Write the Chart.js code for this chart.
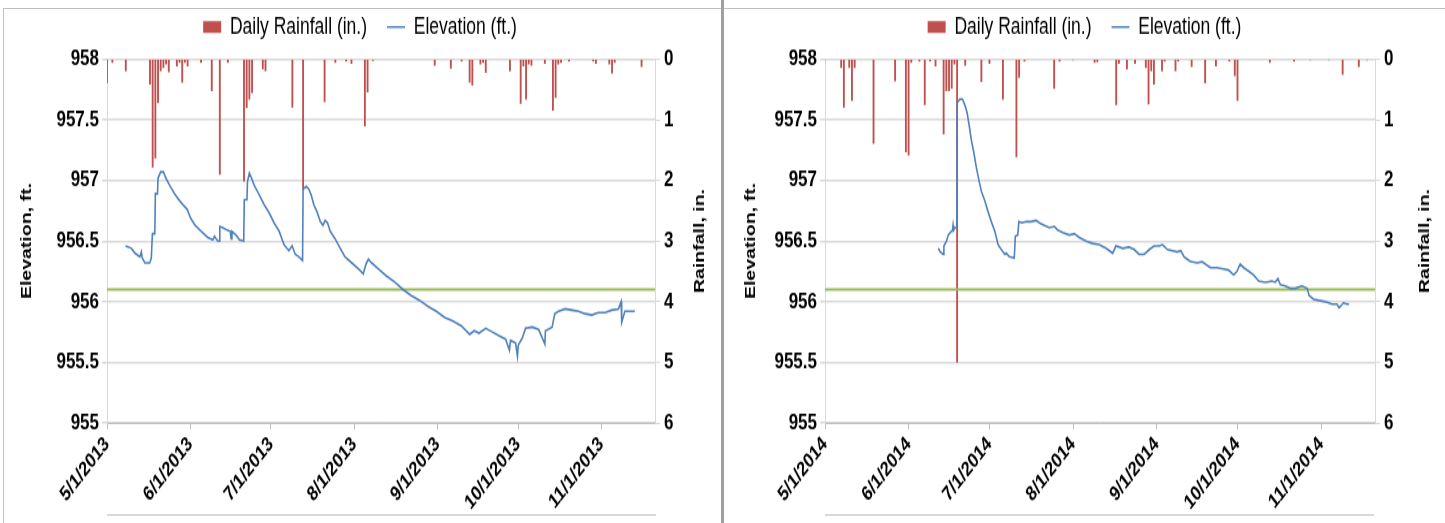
<!DOCTYPE html>
<html>
<head>
<meta charset="utf-8">
<script src="https://cdn.jsdelivr.net/npm/chart.js@4.4.1/dist/chart.umd.min.js"></script>
<style>
  html, body { margin: 0; padding: 0; background: #fff; }
  #wrap { position: relative; width: 1445px; height: 523px; overflow: hidden; }
  .frame { position: absolute; border-top: 1px solid #bfbfbf; border-left: 1px solid #bfbfbf; }
  .divider { position: absolute; left: 721px; top: 0; width: 3px; height: 523px; background: #a0a0a0; }
  .rule { position: absolute; top: 514px; width: 549px; height: 2px; background: #d9d9d9; }
  /* the source picture is stretched vertically, so the charts are drawn short and scaled up */
  canvas { position: absolute; top: 0; transform: scaleY(1.301); transform-origin: 0 0; }
</style>
</head>
<body>
<div id="wrap">
  <div class="frame" style="left:3px;top:8px;width:718px;height:515px;"></div>
  <div class="frame" style="left:724px;top:8px;width:721px;height:515px;border-left:none;"></div>
  <div class="divider"></div>
  <div class="rule" style="left:107px;"></div>
  <div class="rule" style="left:825px;"></div>
  <canvas id="chart2013" width="720" height="402" style="left:0;"></canvas>
  <canvas id="chart2014" width="721" height="402" style="left:724px;"></canvas>
</div>
<script>
// x values are days after May 1 of each year
const monthTicks = [0, 31, 61, 92, 123, 153, 184];
const monthLabels2013 = ['5/1/2013', '6/1/2013', '7/1/2013', '8/1/2013', '9/1/2013', '10/1/2013', '11/1/2013'];
const monthLabels2014 = ['5/1/2014', '6/1/2014', '7/1/2014', '8/1/2014', '9/1/2014', '10/1/2014', '11/1/2014'];
const elevationTicks = [955, 955.5, 956, 956.5, 957, 957.5, 958];
const lastDay = 204;
const targetElevation = 956.1;

// daily rainfall, [day, inches]
const rain2013 = [
  [0, 0.39], [2, 0.05], [7, 0.19], [16, 0.41], [17, 1.78], [18, 1.63], [19, 0.72], [20, 0.19],
  [21, 0.14], [22, 0.08], [23, 0.21], [26, 0.11], [27, 0.05], [28, 0.38], [29, 0.05], [30, 0.11],
  [35, 0.05], [39, 0.52], [42, 1.90], [45, 0.05], [51, 2.01], [52, 0.80], [53, 0.66], [54, 0.55],
  [58, 0.16], [59, 0.19], [69, 0.79], [73, 2.15], [81, 0.70], [85, 0.05], [89, 0.03], [91, 0.07],
  [96, 1.10], [97, 0.54], [99, 0.02], [122, 0.10], [128, 0.15], [132, 0.03], [135, 0.38], [136, 0.43],
  [139, 0.08], [140, 0.05], [141, 0.22], [150, 0.19], [154, 0.73], [155, 0.11], [156, 0.66], [157, 0.08],
  [158, 0.10], [163, 0.07], [166, 0.84], [167, 0.63], [168, 0.08], [169, 0.05], [172, 0.03], [181, 0.03],
  [182, 0.07], [187, 0.08], [188, 0.23], [189, 0.05], [199, 0.12]
];
const rain2014 = [
  [0, 0.01], [6, 0.14], [7, 0.79], [9, 0.14], [10, 0.68], [11, 0.14], [18, 1.39], [26, 0.36],
  [30, 1.53], [31, 1.58], [32, 0.05], [35, 0.03], [37, 0.75], [39, 0.03], [41, 0.11], [44, 1.23],
  [45, 0.52], [46, 0.52], [47, 0.48], [48, 0.08], [49, 5.0], [52, 0.10], [58, 0.37], [61, 0.07],
  [66, 0.66], [71, 1.61], [72, 0.30], [74, 0.03], [85, 0.48], [87, 0.03], [92, 0.01], [100, 0.05],
  [101, 0.04], [108, 0.75], [109, 0.07], [112, 0.16], [115, 0.07], [119, 0.14], [120, 0.74], [121, 0.19],
  [122, 0.41], [125, 0.19], [126, 0.03], [130, 0.19], [131, 0.03], [136, 0.12], [141, 0.39], [145, 0.11],
  [150, 0.03], [152, 0.27], [153, 0.68], [165, 0.05], [174, 0.03], [180, 0.01], [187, 0.01], [192, 0.25],
  [198, 0.12], [201, 0.01]
];

// lake elevation, [day, ft]
const elevation2013 = [
  [6.9, 956.46], [9.1, 956.44], [10.4, 956.40], [12.2, 956.37], [12.8, 956.41], [13.1, 956.36], [14.1, 956.32],
  [15.9, 956.32], [16.5, 956.36], [16.9, 956.56], [17.8, 956.56], [18.0, 956.89], [18.8, 956.89], [19.0, 957.02],
  [20.0, 957.07], [21.0, 957.07], [21.9, 957.02], [23.3, 956.96], [25.2, 956.89], [26.4, 956.85], [28.3, 956.80],
  [29.9, 956.76], [31.1, 956.69], [32.8, 956.63], [35.1, 956.58], [37.5, 956.53], [39.4, 956.51], [40.0, 956.54],
  [41.2, 956.50], [41.9, 956.50], [42.0, 956.62], [43.1, 956.61], [44.7, 956.59], [45.9, 956.58], [46.2, 956.52],
  [46.5, 956.58], [48.0, 956.55], [49.3, 956.51], [50.9, 956.50], [51.1, 956.84], [52.1, 956.84], [52.3, 956.99],
  [53.0, 957.06], [53.8, 957.02], [54.8, 956.96], [56.7, 956.88], [58.5, 956.80], [60.4, 956.73], [62.2, 956.65],
  [64.1, 956.58], [65.9, 956.47], [67.7, 956.42], [68.9, 956.46], [70.1, 956.39], [71.4, 956.37], [72.8, 956.34],
  [73.0, 956.93], [74.2, 956.95], [75.1, 956.93], [76.0, 956.88], [77.0, 956.80], [78.2, 956.74], [79.4, 956.66],
  [80.4, 956.63], [81.2, 956.67], [82.1, 956.65], [83.1, 956.58], [84.9, 956.52], [86.8, 956.44], [88.6, 956.37],
  [91.1, 956.32], [93.6, 956.27], [95.4, 956.23], [96.4, 956.31], [97.3, 956.35], [98.5, 956.32], [101.0, 956.27],
  [104.1, 956.21], [107.2, 956.16], [110.2, 956.10], [113.3, 956.05], [116.4, 956.01], [119.5, 955.96], [122.6, 955.92],
  [125.7, 955.87], [128.8, 955.84], [131.9, 955.80], [135.0, 955.73], [136.7, 955.76], [138.5, 955.74], [141.0, 955.78],
  [143.4, 955.75], [145.9, 955.72], [148.4, 955.69], [149.8, 955.60], [150.2, 955.68], [152.1, 955.66], [152.8, 955.55],
  [153.1, 955.64], [154.6, 955.70], [155.8, 955.78], [158.3, 955.79], [160.7, 955.77], [163.0, 955.65], [163.2, 955.76],
  [165.7, 955.79], [166.7, 955.90], [168.1, 955.92], [170.6, 955.94], [173.1, 955.93], [175.5, 955.92], [178.0, 955.90],
  [180.5, 955.89], [182.9, 955.91], [185.4, 955.91], [187.9, 955.93], [190.4, 955.94], [191.4, 956.00], [191.6, 955.83],
  [192.8, 955.92], [195.3, 955.92], [196.5, 955.92]
];
const elevation2014 = [
  [42.0, 956.44], [42.8, 956.41], [43.8, 956.39], [44.1, 956.46], [45.1, 956.50], [45.7, 956.55], [46.5, 956.57],
  [47.3, 956.59], [47.5, 956.63], [47.7, 956.59], [48.1, 956.61], [48.9, 956.61], [49.0, 957.64], [50.0, 957.67],
  [51.0, 957.67], [51.9, 957.62], [52.7, 957.56], [53.5, 957.45], [54.3, 957.33], [55.2, 957.23], [56.2, 957.10],
  [57.2, 956.99], [58.0, 956.91], [59.3, 956.83], [60.5, 956.74], [61.7, 956.66], [63.0, 956.58], [64.2, 956.47],
  [65.4, 956.43], [66.7, 956.39], [67.2, 956.40], [68.4, 956.37], [70.2, 956.36], [70.6, 956.54], [71.5, 956.55],
  [71.9, 956.66], [73.1, 956.65], [74.6, 956.66], [76.4, 956.66], [78.3, 956.67], [79.5, 956.65], [81.4, 956.63],
  [83.2, 956.61], [85.1, 956.62], [86.3, 956.59], [88.2, 956.57], [90.6, 956.55], [92.5, 956.56], [94.3, 956.53],
  [96.8, 956.50], [99.3, 956.48], [101.7, 956.47], [104.2, 956.44], [106.7, 956.40], [107.9, 956.46], [110.4, 956.44],
  [112.8, 956.45], [114.7, 956.43], [116.5, 956.39], [118.4, 956.39], [120.3, 956.43], [122.1, 956.46], [124.0, 956.46],
  [125.2, 956.47], [127.0, 956.43], [128.9, 956.42], [130.7, 956.41], [132.0, 956.42], [133.2, 956.37], [134.4, 956.35],
  [135.6, 956.33], [138.0, 956.32], [139.9, 956.33], [141.1, 956.31], [143.0, 956.28], [145.4, 956.28], [147.9, 956.27],
  [149.7, 956.26], [151.6, 956.22], [152.8, 956.25], [154.0, 956.31], [155.3, 956.28], [157.2, 956.25], [159.0, 956.22],
  [160.9, 956.17], [163.3, 956.16], [165.8, 956.17], [167.0, 956.16], [168.0, 956.19], [168.9, 956.14], [170.7, 956.13],
  [172.6, 956.11], [174.4, 956.11], [176.9, 956.13], [178.8, 956.11], [179.6, 956.05], [181.2, 956.02], [183.1, 956.01],
  [185.6, 956.00], [188.0, 955.98], [189.9, 955.98], [190.7, 955.95], [192.3, 955.99], [193.6, 955.98], [194.4, 955.98]
];

const FONT = '"Liberation Sans Narrow", "Liberation Sans", Arial, sans-serif';
const LEGEND_FONT = '"Liberation Sans", Arial, sans-serif';
const RED = '#C0504D';
const BLUE = '#4F81BD';
const GREEN = '#9BBB59';
const GRID = '#d9d9d9';

// extra room between the legend and the plot
const legendGap = {
  id: 'legendGap',
  beforeInit(chart) {
    const fit = chart.legend.fit;
    chart.legend.fit = function () {
      fit.call(this);
      this.height += 6;
    };
  }
};

// right axis title reads bottom-to-top like the left one
const rightTitle = {
  id: 'rightTitle',
  afterDraw(chart, args, opts) {
    const {ctx, chartArea} = chart;
    const s = chart.scales.y1;
    ctx.save();
    ctx.translate(s.right - opts.offset, (chartArea.top + chartArea.bottom) / 2);
    ctx.rotate(-Math.PI / 2);
    ctx.font = 'bold 15px ' + LEGEND_FONT;
    ctx.fillStyle = '#000';
    ctx.textAlign = 'center';
    ctx.textBaseline = 'middle';
    ctx.fillText(opts.text, 0, 0);
    ctx.restore();
  }
};

function drawPanel(id, rain, elevation, labels, leftW, rightW) {
  const ctx = document.getElementById(id).getContext('2d');
  new Chart(ctx, {
    type: 'bar',
    data: {
      datasets: [{
        type: 'bar',
        label: 'Daily Rainfall (in.)',
        data: rain.map(d => ({x: d[0], y: d[1]})),
        yAxisID: 'y1',
        backgroundColor: RED,
        borderWidth: 0,
        barThickness: 1.2,
        pointStyle: 'rect',
        order: 2
      }, {
        type: 'line',
        label: 'Elevation (ft.)',
        data: elevation.map(d => ({x: d[0], y: d[1]})),
        yAxisID: 'y',
        borderColor: BLUE,
        backgroundColor: BLUE,
        borderWidth: 1.6,
        pointRadius: 0,
        fill: false,
        pointStyle: 'line',
        order: 0
      }, {
        type: 'line',
        label: 'target',
        data: [{x: 0, y: targetElevation}, {x: lastDay, y: targetElevation}],
        yAxisID: 'y',
        borderColor: GREEN,
        borderWidth: 2,
        pointRadius: 0,
        fill: false,
        order: 1
      }]
    },
    options: {
      responsive: false,
      animation: false,
      devicePixelRatio: 1,
      layout: {padding: {top: -8, left: 0, right: 0, bottom: 0}},
      plugins: {
        tooltip: {enabled: false},
        legend: {
          position: 'top',
          labels: {
            usePointStyle: true,
            pointStyleWidth: 18,
            boxHeight: 9,
            padding: 20,
            color: '#000',
            font: {family: LEGEND_FONT, size: 17.5},
            filter: item => item.datasetIndex !== 2,
            sort: (a, b) => a.datasetIndex - b.datasetIndex
          }
        },
        rightTitle: {text: 'Rainfall, in.', offset: 20}
      },
      scales: {
        x: {
          type: 'linear',
          min: 0,
          max: lastDay,
          offset: false,
          afterBuildTicks: s => { s.ticks = monthTicks.map(v => ({value: v})); },
          afterFit: s => { s.height = 77; },
          ticks: {
            minRotation: 45,
            maxRotation: 45,
            autoSkip: false,
            padding: 2,
            color: '#000',
            font: {family: FONT, size: 16, weight: 'bold'},
            callback: (v, i) => labels[i]
          },
          grid: {drawOnChartArea: false, drawTicks: true, tickLength: 5, color: '#bfbfbf', offset: false},
          border: {display: true, color: '#bfbfbf'}
        },
        y: {
          position: 'left',
          min: 955,
          max: 958,
          afterBuildTicks: s => { s.ticks = elevationTicks.map(v => ({value: v})); },
          afterFit: s => { s.width = leftW; },
          ticks: {color: '#000', padding: 3, font: {family: FONT, size: 17, weight: 'bold'}, callback: v => String(v)},
          grid: {color: GRID, lineWidth: 1.5, tickLength: 5},
          border: {display: true, color: GRID},
          title: {
            display: true,
            text: 'Elevation, ft.',
            color: '#000',
            font: {family: LEGEND_FONT, size: 15, weight: 'bold'},
            padding: {top: 18, bottom: 0}
          }
        },
        y1: {
          position: 'right',
          reverse: true,
          min: 0,
          max: 6,
          afterFit: s => { s.width = rightW; },
          ticks: {stepSize: 1, color: '#000', padding: 4, font: {family: FONT, size: 17, weight: 'bold'}},
          grid: {drawOnChartArea: false, tickLength: 5, color: GRID},
          border: {display: true, color: GRID}
        }
      }
    },
    plugins: [legendGap, rightTitle]
  });
}

drawPanel('chart2013', rain2013, elevation2013, monthLabels2013, 107, 65);
drawPanel('chart2014', rain2014, elevation2014, monthLabels2014, 101, 70);
</script>
</body>
</html>
